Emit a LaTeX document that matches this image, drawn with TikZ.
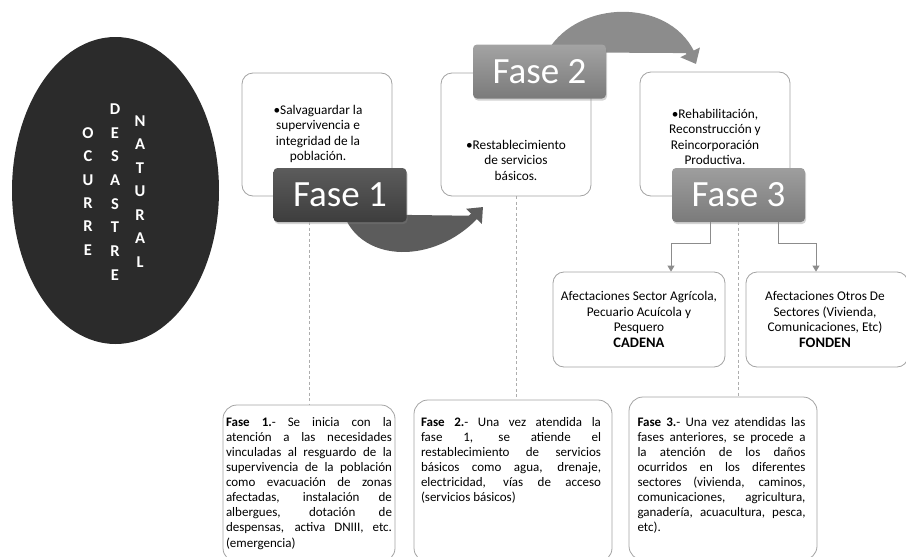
\documentclass[tikz,border=0pt]{standalone}
\usepackage{fontspec}
\setmainfont{Carlito}
\usetikzlibrary{calc,shapes.geometric,arrows.meta,shadows}
\tikzset{>=latex}
\pgfdeclarelayer{fondo}
\pgfsetlayers{fondo,main}
\definecolor{borde}{HTML}{A3A3A3}
\definecolor{guion}{HTML}{ADADAD}
\definecolor{conector}{HTML}{8C8C8C}
\definecolor{ovalo}{HTML}{2B2B2B}

\tikzset{
  cuadro/.style={draw=borde, line width=0.8pt, rounded corners=11pt, fill=white},
  textoc/.style={align=center, inner sep=0pt, font=\fontsize{13.3}{15.5}\selectfont},
  textoj/.style={align=justify, inner sep=0pt, anchor=north, font=\fontsize{13}{15.1}\selectfont},
  fase/.style={rounded corners=4pt, text=white, minimum width=133pt, minimum height=54pt,
    font=\fontsize{37}{40}\selectfont,
    drop shadow={opacity=0.35, shadow xshift=1pt, shadow yshift=-2pt}},
  letra/.style={text=white, inner sep=0pt, font=\fontsize{16.5}{16}\selectfont\bfseries},
  flecha/.style={line width=8pt, -{Triangle[width=21pt,length=13pt]}},
  guia/.style={draw=guion, line width=0.8pt, dash pattern=on 3pt off 2.5pt},
  enlace/.style={draw=conector, line width=0.9pt, -{Triangle[width=7pt,length=6pt]}}
}

\begin{document}
\begin{tikzpicture}[x=1pt,y=-1pt]
\clip (0,0) rectangle (906,557);

% ovalo con el evento
\node[ellipse, fill=ovalo, minimum width=207pt, minimum height=307pt] (evento) at (115.5,190.5) {};
\foreach \l [count=\i] in {O,C,U,R,R,E}
  \node[letra] (ocurre-\i) at (88,{133+23.4*(\i-1)}) {\l};
\foreach \l [count=\i] in {D,E,S,A,S,T,R,E}
  \node[letra] (desastre-\i) at (115,{109+23.7*(\i-1)}) {\l};
\foreach \l [count=\i] in {N,A,T,U,R,A,L}
  \node[letra] (natural-\i) at (140,{121+23.5*(\i-1)}) {\l};

% cuadros de objetivos
\node[cuadro, minimum width=150pt, minimum height=123pt] (obj1) at (317,134.5) {};
\node[textoc] (obj1txt) at (318,134) {•Salvaguardar la\\supervivencia e\\integridad de la\\población.};

\node[cuadro, minimum width=150pt, minimum height=123pt] (obj2) at (516,134.5) {};
\node[textoc] (obj2txt) at (516,160) {•Restablecimiento\\de servicios\\básicos.};

\node[cuadro, minimum width=150pt, minimum height=124pt] (obj3) at (715,134) {};
\node[textoc] (obj3txt) at (715,137) {•Rehabilitación,\\Reconstrucción y\\Reincorporación\\Productiva.};

% fases y flechas curvas
\node[fase, top color=black!64, bottom color=black!76] (fase1) at (340,195) {Fase 1};
\node[fase, top color=black!36, bottom color=black!52] (fase2) at (539.5,71.5) {Fase 2};
\node[fase, top color=black!38, bottom color=black!52] (fase3) at (738.5,195) {Fase 3};

\coordinate (fin1) at (483,207);
\coordinate (fin2) at (696,64);
\begin{pgfonlayer}{fondo}
\draw[flecha, draw=black!64, fill=black!64] ([xshift=8pt,yshift=8pt]fase1.south) .. controls (365,258) and (432,260) .. (fin1);
\draw[flecha, draw=black!45, fill=black!45] ([xshift=12pt,yshift=-8pt]fase2.north) .. controls (580,5) and (665,2) .. (fin2);
\end{pgfonlayer}

% descripciones de cada fase
\node[cuadro, rounded corners=14pt, minimum width=172pt, minimum height=157pt] (desc1) at (309,483.5) {};
\node[textoj, text width=166pt] (desc1txt) at (309,417) {\textbf{Fase 1.}- Se inicia con la\linebreak
atención a las necesidades\linebreak
vinculadas al resguardo de la\linebreak
supervivencia de la población\linebreak
como evacuación de zonas\linebreak
afectadas, instalación de\linebreak
albergues, dotación de\linebreak
despensas, activa DNIII, etc.\linebreak
(emergencia)};

\node[cuadro, rounded corners=14pt, minimum width=198pt, minimum height=162pt] (desc2) at (513,481) {};
\node[textoj, text width=180pt] (desc2txt) at (511,417) {\textbf{Fase 2.}- Una vez atendida la\linebreak
fase 1, se atiende el\linebreak
restablecimiento de servicios\linebreak
básicos como agua, drenaje,\linebreak
electricidad, vías de acceso\linebreak
(servicios básicos)};

\node[cuadro, rounded corners=14pt, minimum width=188pt, minimum height=163pt] (desc3) at (723,478.5) {};
\node[textoj, text width=168pt] (desc3txt) at (721.5,417) {\textbf{Fase 3.}- Una vez atendidas las\linebreak
fases anteriores, se procede a\linebreak
la atención de los daños\linebreak
ocurridos en los diferentes\linebreak
sectores (vivienda, caminos,\linebreak
comunicaciones, agricultura,\linebreak
ganadería, acuacultura, pesca,\linebreak
etc).};

\draw[guia] (desc1.north |- fase1.south) -- (desc1.north);
\draw[guia] (obj2.south) -- (obj2.south |- desc2.north);
\draw[guia] (fase3.south) -- (fase3.south |- desc3.north);

% afectaciones
\node[cuadro, minimum width=172pt, minimum height=95pt, textoc] (cadena) at (639,319.5)
  {Afectaciones Sector Agrícola,\\Pecuario Acuícola y\\Pesquero\\{\fontsize{14.5}{16}\selectfont\bfseries CADENA}};
\node[cuadro, minimum width=162pt, minimum height=95pt] (fonden) at (827,319.5) {};
\node[textoc] (fondentxt) at (825,319.5)
  {Afectaciones Otros De\\Sectores (Vivienda,\\Comunicaciones, Etc)\\{\fontsize{14.5}{16}\selectfont\bfseries FONDEN}};

\draw[enlace] ([xshift=-28pt]fase3.south) -- ++(0,21) -| ([xshift=32pt]cadena.north);
\draw[enlace] ([xshift=40pt]fase3.south) -- ++(0,21) -| ([xshift=-11pt]fonden.north);
\end{tikzpicture}
\end{document}
